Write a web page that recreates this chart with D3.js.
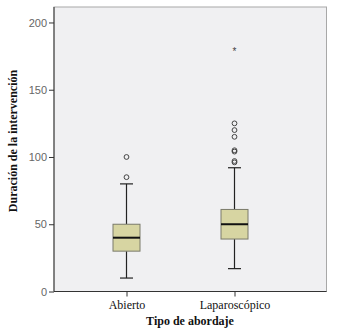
<!DOCTYPE html>
<html>
<head>
<meta charset="utf-8">
<script src="https://cdn.jsdelivr.net/npm/d3@7"></script>
<style>
  html, body { margin: 0; padding: 0; background: #ffffff; }
  svg { display: block; }
</style>
</head>
<body>
<div id="chart"></div>
<script>
// ---- Data ----
const categories = ["Abierto", "Laparoscópico"];
const whiskerLow = [10, 17];
const q1 = [30, 39];
const median = [40, 50];
const q3 = [50, 61];
const whiskerHigh = [80, 92];
const outliersAbierto = [85, 100];
const outliersLaparoscopico = [96, 97, 104, 105, 115, 120, 125];
const extremesAbierto = [];
const extremesLaparoscopico = [180];
const yTicks = [0, 50, 100, 150, 200];
const yTitle = "Duración de la intervención";
const xTitle = "Tipo de abordaje";

const outliers = [outliersAbierto, outliersLaparoscopico];
const extremes = [extremesAbierto, extremesLaparoscopico];

// ---- Layout ----
const W = 337, H = 335;
const plot = { left: 54, right: 326.5, top: 7, bottom: 291.5 };

const svg = d3.select("#chart").append("svg")
  .attr("width", W).attr("height", H);

const y = d3.scaleLinear().domain([0, 211.5]).range([plot.bottom, plot.top]);
const x = d3.scalePoint().domain(categories).range([126.5, 234.5]);

// background
svg.append("rect")
  .attr("x", plot.left).attr("y", plot.top)
  .attr("width", plot.right - plot.left).attr("height", plot.bottom - plot.top)
  .attr("fill", "#f0f0f2")
  .attr("stroke", "#a8a8a8").attr("stroke-width", 1);

// Y axis
const yAxis = d3.axisLeft(y).tickValues(yTicks).tickSize(5).tickPadding(2).tickFormat(d3.format("d"));
const gy = svg.append("g").attr("transform", `translate(${plot.left},0)`).call(yAxis);
gy.select(".domain").attr("stroke", "#333").attr("d", `M0,${plot.top}V${plot.bottom}`);
gy.selectAll(".tick line").attr("stroke", "#333");
gy.selectAll(".tick text")
  .attr("fill", "#666").attr("font-family", "Arial, 'Liberation Sans', sans-serif").attr("font-size", 11);

// X axis
const xAxis = d3.axisBottom(x).tickSize(5).tickPadding(4);
const gx = svg.append("g").attr("transform", `translate(0,${plot.bottom})`).call(xAxis);
gx.select(".domain").attr("stroke", "#333").attr("d", `M${plot.left},0H${plot.right}`);
gx.selectAll(".tick line").attr("stroke", "#333");
gx.selectAll(".tick text")
  .attr("fill", "#111").attr("font-family", "'Liberation Serif', 'Times New Roman', serif").attr("font-size", 12);

// Boxes
const boxW = 27, capW = 13;
const groups = svg.append("g").selectAll("g").data(categories).join("g");

groups.each(function(cat, i) {
  const g = d3.select(this);
  const cx = x(cat);
  // whiskers
  g.append("line").attr("x1", cx).attr("x2", cx)
    .attr("y1", y(q3[i])).attr("y2", y(whiskerHigh[i]))
    .attr("stroke", "#222").attr("stroke-width", 1.2);
  g.append("line").attr("x1", cx).attr("x2", cx)
    .attr("y1", y(q1[i])).attr("y2", y(whiskerLow[i]))
    .attr("stroke", "#222").attr("stroke-width", 1.2);
  [whiskerHigh[i], whiskerLow[i]].forEach(v => {
    g.append("line").attr("x1", cx - capW / 2).attr("x2", cx + capW / 2)
      .attr("y1", y(v)).attr("y2", y(v))
      .attr("stroke", "#222").attr("stroke-width", 1.2);
  });
  // box
  g.append("rect")
    .attr("x", cx - boxW / 2).attr("y", y(q3[i]))
    .attr("width", boxW).attr("height", y(q1[i]) - y(q3[i]))
    .attr("fill", "#d7d5a2").attr("stroke", "#7a7a6a").attr("stroke-width", 1);
  // median
  g.append("line").attr("x1", cx - boxW / 2).attr("x2", cx + boxW / 2)
    .attr("y1", y(median[i])).attr("y2", y(median[i]))
    .attr("stroke", "#111").attr("stroke-width", 2);
  // outliers
  g.selectAll("circle.out").data(outliers[i]).join("circle")
    .attr("class", "out")
    .attr("cx", cx).attr("cy", d => y(d)).attr("r", 2.4)
    .attr("fill", "none").attr("stroke", "#444").attr("stroke-width", 1);
  // extremes
  g.selectAll("text.ext").data(extremes[i]).join("text")
    .attr("class", "ext")
    .attr("x", cx).attr("y", d => y(d) + 6)
    .attr("text-anchor", "middle")
    .attr("font-family", "Arial, sans-serif").attr("font-size", 10)
    .attr("fill", "#444").text("*");
});

// Titles
svg.append("text")
  .attr("x", 190).attr("y", 325)
  .attr("text-anchor", "middle")
  .attr("font-family", "'Liberation Serif', 'Times New Roman', serif")
  .attr("font-weight", "bold").attr("font-size", 12)
  .attr("fill", "#111").text(xTitle);

svg.append("text")
  .attr("transform", `translate(17,141) rotate(-90)`)
  .attr("text-anchor", "middle")
  .attr("font-family", "'Liberation Serif', 'Times New Roman', serif")
  .attr("font-weight", "bold").attr("font-size", 12)
  .attr("fill", "#111").text(yTitle);
</script>
</body>
</html>
